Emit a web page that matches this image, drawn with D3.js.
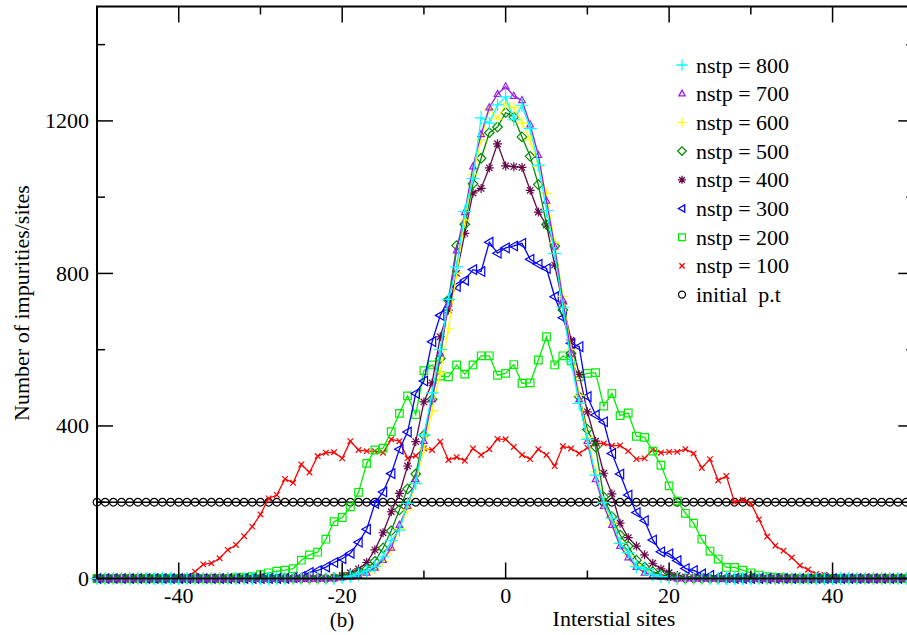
<!DOCTYPE html>
<html>
<head>
<meta charset="utf-8">
<script src="https://cdn.jsdelivr.net/npm/d3@7"></script>
<style>
  html, body { margin: 0; padding: 0; background: #fff; }
  svg { display: block; }
  svg text { font-family: "Liberation Serif", "Times New Roman", Times, "DejaVu Serif", serif; }
</style>
</head>
<body>
<div id="chart"></div>
<script>
// interstitial sites -50 .. 50
const sites = d3.range(-50, 51);

const initialPt = [
  200,200,200,200,200,200,200,200,200,200,
  200,200,200,200,200,200,200,200,200,200,
  200,200,200,200,200,200,200,200,200,200,
  200,200,200,200,200,200,200,200,200,200,
  200,200,200,200,200,200,200,200,200,200,
  200,
  200,200,200,200,200,200,200,200,200,200,
  200,200,200,200,200,200,200,200,200,200,
  200,200,200,200,200,200,200,200,200,200,
  200,200,200,200,200,200,200,200,200,200,
  200,200,200,200,200,200,200,200,200,200
];

const nstp100 = [
  0,0,0,0,0,0,0,0,0,0,
  2,5,18,37,40,53,75,88,111,136,
  168,210,219,261,251,299,278,321,330,331,
  315,360,337,334,334,330,365,360,315,322,
  341,337,359,311,318,309,341,324,339,366,
  365,
  345,324,313,339,324,295,347,341,328,343,
  354,354,348,349,334,313,315,338,330,332,
  332,339,328,290,313,257,269,200,206,197,
  155,110,86,73,55,34,23,12,10,3,
  0,0,0,0,0,0,0,0,0,0
];

const nstp200 = [
  0,0,0,0,0,0,0,0,0,0,
  0,0,0,0,0,0,0,2,3,5,
  10,15,19,22,26,48,62,69,103,149,
  160,188,226,302,337,342,385,433,479,430,
  545,560,531,529,560,536,560,584,584,533,
  538,
  561,512,513,573,634,560,584,571,529,538,
  540,452,485,427,434,373,370,334,297,243,
  203,171,145,103,72,51,29,29,22,15,
  9,5,3,2,0,0,0,0,0,0,
  0,0,0,0,0,0,0,0,0,0
];

const nstp300 = [
  0,0,0,0,0,0,0,0,0,0,
  0,0,0,0,0,0,0,0,0,0,
  0,0,0,0,2,5,16,21,30,42,
  52,66,95,129,197,227,275,339,384,485,
  518,621,690,732,766,782,810,805,882,853,
  867,
  872,879,837,824,813,739,684,617,608,477,
  429,411,328,274,219,173,152,101,70,65,
  47,26,21,12,8,4,2,0,0,0,
  0,0,0,0,0,0,0,0,0,0,
  0,0,0,0,0,0,0,0,0,0
];

const nstp400 = [
  0,0,0,0,0,0,0,0,0,0,
  0,0,0,0,0,0,0,0,0,0,
  0,0,0,0,0,0,0,0,1,3,
  8,15,25,42,75,120,175,223,295,359,
  463,513,634,704,800,905,1011,1023,1077,1140,
  1082,
  1080,1078,1018,961,927,822,720,625,535,437,
  360,276,222,145,107,85,62,40,25,15,
  8,4,2,0,0,0,0,0,0,0,
  0,0,0,0,0,0,0,0,0,0,
  0,0,0,0,0,0,0,0,0,0
];

const nstp500 = [
  0,0,0,0,0,0,0,0,0,0,
  0,0,0,0,0,0,0,0,0,0,
  0,0,0,0,0,0,0,0,0,2,
  5,8,15,25,45,80,125,180,235,274,
  376,470,577,730,873,929,1035,1102,1169,1184,
  1222,
  1210,1158,1107,1033,928,872,704,590,477,391,
  345,214,162,114,85,48,30,18,10,5,
  2,0,0,0,0,0,0,0,0,0,
  0,0,0,0,0,0,0,0,0,0,
  0,0,0,0,0,0,0,0,0,0
];

const nstp600 = [
  0,0,0,0,0,0,0,0,0,0,
  0,0,0,0,0,0,0,0,0,0,
  0,0,0,0,0,0,0,0,0,0,
  2,4,8,14,25,45,75,131,180,250,
  340,440,540,655,800,940,1060,1150,1232,1205,
  1245,
  1235,1195,1150,1080,1010,880,740,600,480,370,
  280,200,145,95,60,35,20,10,5,2,
  0,0,0,0,0,0,0,0,0,0,
  0,0,0,0,0,0,0,0,0,0,
  0,0,0,0,0,0,0,0,0,0
];

const nstp700 = [
  0,0,0,0,0,0,0,0,0,0,
  0,0,0,0,0,0,0,0,0,0,
  0,0,0,0,0,0,0,0,0,0,
  2,4,8,15,28,48,80,140,190,260,
  360,470,590,720,860,960,1080,1165,1235,1270,
  1290,
  1265,1254,1190,1110,990,870,730,590,470,360,
  260,190,140,85,55,30,15,8,4,2,
  0,0,0,0,0,0,0,0,0,0,
  0,0,0,0,0,0,0,0,0,0,
  0,0,0,0,0,0,0,0,0,0
];

const nstp800 = [
  0,0,0,0,0,0,0,0,0,0,
  0,0,0,0,0,0,0,0,0,0,
  0,0,0,0,0,0,0,0,0,0,
  3,6,12,20,32,57,100,127,197,249,
  376,487,600,732,817,962,1049,1208,1194,1242,
  1263,
  1203,1241,1180,1084,965,852,712,568,459,365,
  271,199,158,92,68,31,25,10,5,2,
  0,0,0,0,0,0,0,0,0,0,
  0,0,0,0,0,0,0,0,0,0,
  0,0,0,0,0,0,0,0,0,0
];

const xTicks = [-40, -20, 0, 20, 40];
const xMinorTicks = [-30, -10, 10, 30];
const yTicks = [0, 400, 800, 1200];
const yMinorTicks = [200, 600, 1000, 1400];

// series in drawing order (bottom first)
const series = [
  { name: "initial  p.t", values: initialPt, color: "#000000", mark: "circle", size: 3.8, legendSize: 3.5 },
  { name: "nstp = 100", values: nstp100, color: "#ff0000", mark: "x", size: 2.8, legendSize: 2.6 },
  { name: "nstp = 200", values: nstp200, color: "#00ee00", mark: "square", size: 3.8, legendSize: 3.4 },
  { name: "nstp = 300", values: nstp300, color: "#0000ff", mark: "triLeft", size: 6, legendSize: 4.5 },
  { name: "nstp = 400", values: nstp400, color: "#670748", mark: "star", size: 4.5, legendSize: 4 },
  { name: "nstp = 500", values: nstp500, color: "#008b00", mark: "diamond", size: 4.8, legendSize: 4.2 },
  { name: "nstp = 600", values: nstp600, color: "#ffff00", mark: "plus", size: 5.5, legendSize: 4.5 },
  { name: "nstp = 700", values: nstp700, color: "#9a20e0", mark: "triUp", size: 3.8, legendSize: 3.6 },
  { name: "nstp = 800", values: nstp800, color: "#00ffff", mark: "plus", size: 6.5, legendSize: 5.5 }
];

function markPath(type, s) {
  switch (type) {
    case "plus": return `M${-s},0H${s}M0,${-s}V${s}`;
    case "x": return `M${-s},${-s}L${s},${s}M${-s},${s}L${s},${-s}`;
    case "star": {
      const d = s * 0.72;
      return `M${-s},0H${s}M0,${-s}V${s}M${-d},${-d}L${d},${d}M${-d},${d}L${d},${-d}`;
    }
    case "diamond": return `M0,${-s}L${s},0L0,${s}L${-s},0Z`;
    case "square": return `M${-s},${-s}H${s}V${s}H${-s}Z`;
    case "triUp": return `M0,${-s}L${s * 0.87},${s * 0.6}L${-s * 0.87},${s * 0.6}Z`;
    case "triLeft": return `M${-s * 0.8},0L${s * 0.6},${-s * 0.8}L${s * 0.6},${s * 0.8}Z`;
    case "circle": return `M${s},0A${s},${s} 0 1,1 ${-s},0A${s},${s} 0 1,1 ${s},0Z`;
  }
}

const width = 907, height = 635;
const margin = { left: 97, top: 6.5, bottom: 578.5 };
const serif = "Liberation Serif, Times New Roman, serif";

const x = d3.scaleLinear().domain([-50, 50]).range([margin.left, 914.3]);
const y = d3.scaleLinear().domain([0, 1500]).range([margin.bottom, margin.top]);

const svg = d3.select("#chart").append("svg")
  .attr("width", width)
  .attr("height", height)
  .attr("viewBox", `0 0 ${width} ${height}`)
  .attr("font-family", serif);

const plot = svg.append("g");

const line = d3.line()
  .x((d, i) => x(sites[i]))
  .y(d => y(d));

series.forEach(s => {
  const g = plot.append("g");
  g.append("path")
    .datum(s.values)
    .attr("fill", "none")
    .attr("stroke", s.color)
    .attr("stroke-width", 1.3)
    .attr("d", line);
  g.selectAll("path.mk")
    .data(s.values)
    .enter()
    .append("path")
    .attr("class", "mk")
    .attr("transform", (d, i) => `translate(${x(sites[i])},${y(d)})`)
    .attr("d", markPath(s.mark, s.size))
    .attr("fill", "none")
    .attr("stroke", s.color)
    .attr("stroke-width", 1.2);
});

// axes (ticks inside on all four sides)
const axisG = svg.append("g");
const x0 = x(-50), x1 = x(50), y0 = y(0), y1 = y(1500);
axisG.append("rect")
  .attr("x", x0).attr("y", y1)
  .attr("width", x1 - x0).attr("height", y0 - y1)
  .attr("fill", "none").attr("stroke", "#000").attr("stroke-width", 2);

function tickLines(values, len, isX) {
  values.forEach(v => {
    if (isX) {
      axisG.append("line").attr("x1", x(v)).attr("x2", x(v)).attr("y1", y0).attr("y2", y0 - len)
        .attr("stroke", "#000").attr("stroke-width", 1.5);
      axisG.append("line").attr("x1", x(v)).attr("x2", x(v)).attr("y1", y1).attr("y2", y1 + len)
        .attr("stroke", "#000").attr("stroke-width", 1.5);
    } else {
      axisG.append("line").attr("x1", x0).attr("x2", x0 + len).attr("y1", y(v)).attr("y2", y(v))
        .attr("stroke", "#000").attr("stroke-width", 1.5);
      axisG.append("line").attr("x1", x1).attr("x2", x1 - len).attr("y1", y(v)).attr("y2", y(v))
        .attr("stroke", "#000").attr("stroke-width", 1.5);
    }
  });
}
tickLines(xTicks, 16, true);
tickLines(xMinorTicks, 8, true);
tickLines(yTicks, 16, false);
tickLines(yMinorTicks, 8, false);

axisG.selectAll("text.xt")
  .data(xTicks)
  .enter().append("text")
  .attr("x", d => x(d))
  .attr("y", 603)
  .attr("text-anchor", "middle")
  .attr("font-family", serif)
  .attr("font-size", 22)
  .text(d => d);

axisG.selectAll("text.yt")
  .data(yTicks)
  .enter().append("text")
  .attr("x", 89)
  .attr("y", d => y(d) + 7.5)
  .attr("text-anchor", "end")
  .attr("font-family", serif)
  .attr("font-size", 22)
  .text(d => d);

svg.append("text")
  .attr("x", 614).attr("y", 626)
  .attr("text-anchor", "middle")
  .attr("font-family", serif)
  .attr("font-size", 22)
  .text("Interstial sites");

svg.append("text")
  .attr("x", 342).attr("y", 627)
  .attr("text-anchor", "middle")
  .attr("font-family", serif)
  .attr("font-size", 21)
  .text("(b)");

svg.append("text")
  .attr("transform", "translate(29,303) rotate(-90)")
  .attr("text-anchor", "middle")
  .attr("font-family", serif)
  .attr("font-size", 22)
  .text("Number of impurities/sites");

// legend, top entry is the last series
const legend = svg.append("g");
series.slice().reverse().forEach((s, i) => {
  const ly = 65 + i * 28.7;
  legend.append("path")
    .attr("transform", `translate(682,${ly})`)
    .attr("d", markPath(s.mark, s.legendSize))
    .attr("fill", "none")
    .attr("stroke", s.color)
    .attr("stroke-width", 1.3);
  legend.append("text")
    .attr("x", 696)
    .attr("y", ly + 7.5)
    .attr("font-family", serif)
    .attr("font-size", 22)
    .style("white-space", "pre")
    .text(s.name);
});
</script>
</body>
</html>
